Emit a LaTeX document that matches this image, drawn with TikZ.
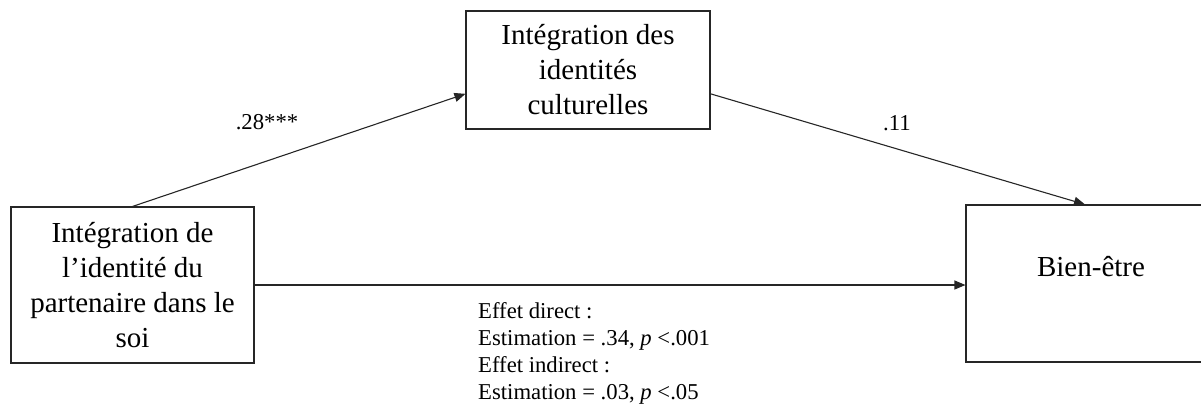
\documentclass[tikz,border=0pt]{standalone}
\usepackage{fontspec}
\setmainfont{Liberation Serif}
\usetikzlibrary{arrows.meta,calc}
\begin{document}
\begin{tikzpicture}[x=1pt,y=-1pt,
  box/.style={draw=black!85,line width=1.1pt,inner sep=0pt,align=center,
    font=\fontsize{29}{35}\selectfont},
  lab/.style={inner sep=0pt,font=\fontsize{22.7}{27}\selectfont},
  conn/.style={draw=black!85,line width=1.1pt,-{Triangle[length=11pt,width=9pt]}}]
\useasboundingbox (0,0) rectangle (1201,410);
\clip (0,0) rectangle (1201,410);
\node[box,minimum width=243pt,minimum height=156pt] (L) at (132.5,285)
  {Intégration de\\l’identité du\\partenaire dans le\\soi};
\node[box,minimum width=244pt,minimum height=118pt] (T) at (588,70)
  {Intégration des\\identités\\culturelles};
\node[box,minimum width=250pt,minimum height=157pt] (R) at (1091,283.5) {};
\node[inner sep=0pt,font=\fontsize{29}{35}\selectfont] (Rt) at (1091,267) {Bien-être};
\coordinate (Tin) at ($(T.north west)!0.7!(T.south west)$);
\coordinate (Tout) at ($(T.north east)!0.7!(T.south east)$);
\coordinate (Rin) at ($(R.north west)!0.476!(R.north east)$);
\draw[conn] (L.north) -- (Tin);
\draw[conn] (Tout) -- (Rin);
\draw[conn] (L.east) -- (L.east -| R.west);
\node[lab] (a) at (267,122) {.28***};
\node[lab] (b) at (897,123) {.11};
\node[lab,anchor=north west,align=left] (eff) at (478,302)
  {Effet direct :\\Estimation = .34, \textit{p} <.001\\Effet indirect :\\Estimation = .03, \textit{p} <.05};
\end{tikzpicture}
\end{document}
